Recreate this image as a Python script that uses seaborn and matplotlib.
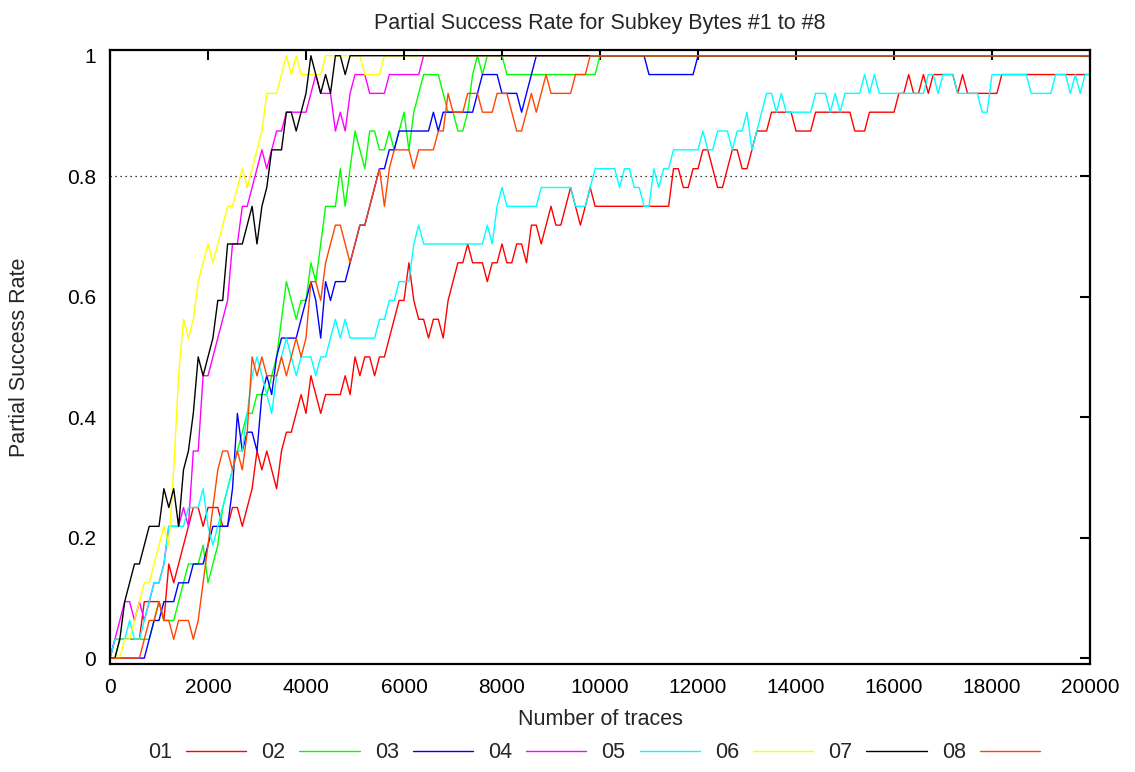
import numpy as np
import pandas as pd
import matplotlib
matplotlib.use("Agg")
import matplotlib.pyplot as plt
import seaborn as sns

# Number of traces at each evaluation step
traces = list(range(0, 20001, 100))

# Successful key recoveries out of 32 experiments, per subkey byte
byte01 = ([0, 1, 1, 1, 1, 1, 1, 3, 3, 3]
          + [3, 2, 5, 4, 5, 6, 7, 8, 8, 7]
          + [8, 8, 8, 7, 7, 8, 8, 7, 8, 9]
          + [11, 10, 11, 10, 9, 11, 12, 12, 13, 14]
          + [13, 15, 14, 13, 14, 14, 14, 14, 15, 14]
          + [16, 15, 16, 16, 15, 16, 16, 17, 18, 19]
          + [19, 21, 19, 18, 18, 17, 18, 18, 17, 19]
          + [20, 21, 21, 22, 21, 21, 21, 20, 21, 21]
          + [22, 21, 21, 22, 22, 21, 23, 23, 22, 23]
          + [24, 23, 23, 24, 25, 24, 23, 24, 25, 24]
          + [24] * 10
          + [24, 24, 24, 24, 24, 26, 26, 25, 25, 26]
          + [26, 27, 27, 26, 25, 25, 26, 27, 27, 26]
          + [26, 27, 28, 28, 28, 29, 29, 29, 29, 29]
          + [28, 28, 28, 28, 29, 29, 29, 29, 29, 29]
          + [29, 29, 28, 28, 28, 29, 29, 29, 29, 29]
          + [29, 30, 30, 31, 30, 30, 31, 30, 31, 31]
          + [31, 31, 31, 30, 31, 30, 30, 30, 30, 30]
          + [30, 30, 31, 31, 31, 31, 31, 31, 31, 31]
          + [31] * 11)

byte02 = ([0, 0, 1, 1, 1, 1, 1, 1, 1, 2]
          + [3, 2, 2, 2, 3, 4, 5, 5, 5, 6]
          + [4, 5, 6, 8, 9, 10, 11, 12, 13, 13]
          + [14, 14, 14, 15, 16, 18, 20, 19, 18, 19]
          + [19, 21, 20, 22, 24, 24, 24, 26, 24, 26]
          + [28, 27, 26, 28, 28, 27, 27, 28, 27, 28]
          + [29, 27, 29, 30, 31, 31, 31, 31, 30, 29]
          + [29, 28, 28, 29, 31, 32, 31, 32, 32, 32]
          + [32, 31, 31, 31, 31, 31, 31, 31, 31, 31]
          + [31] * 10
          + [32] * 101)

byte03 = ([0, 0, 0, 0, 0, 0, 0, 0, 1, 2]
          + [2, 3, 3, 3, 4, 4, 4, 5, 5, 5]
          + [6, 7, 7, 7, 7, 9, 13, 11, 12, 12]
          + [11, 14, 15, 14, 16, 17, 17, 17, 17, 18]
          + [19, 20, 19, 17, 20, 19, 20, 20, 20, 21]
          + [22, 23, 23, 24, 25, 26, 26, 27, 27, 28]
          + [28, 28, 28, 28, 28, 28, 29, 28, 29, 29]
          + [29, 29, 29, 29, 29, 30, 31, 31, 31, 31]
          + [30, 30, 30, 30, 29, 30, 31, 32, 32, 32]
          + [32] * 10
          + [32] * 10
          + [31] * 10
          + [32] * 81)

byte04 = ([0, 1, 2, 3, 3, 2, 3, 2, 3, 4]
          + [4, 5, 7, 7, 7, 8, 7, 11, 11, 15]
          + [15, 16, 17, 18, 19, 22, 22, 24, 24, 25]
          + [26, 27, 26, 27, 28, 28, 29, 29, 29, 29]
          + [29, 30, 31, 30, 30, 30, 28, 29, 28, 30]
          + [31, 31, 31, 30, 30, 30, 30, 31, 31, 31]
          + [31, 31, 31, 31, 32, 32, 32, 32, 32, 32]
          + [32] * 131)

byte05 = ([0, 1, 1, 1, 2, 1, 1, 2, 3, 4]
          + [4, 5, 7, 7, 7, 7, 8, 8, 8, 9]
          + [7, 6, 7, 8, 9, 10, 11, 11, 13, 15]
          + [16, 15, 14, 13, 15, 16, 17, 16, 15, 16]
          + [16, 16, 15, 16, 16, 17, 18, 17, 18, 17]
          + [17, 17, 17, 17, 17, 18, 18, 19, 19, 20]
          + [20, 20, 22, 23, 22, 22, 22, 22, 22, 22]
          + [22, 22, 22, 22, 22, 22, 22, 23, 22, 24]
          + [25, 24, 24, 24, 24, 24, 24, 24, 25, 25]
          + [25, 25, 25, 25, 25, 24, 24, 24, 25, 26]
          + [26, 26, 26, 26, 25, 26, 26, 25, 25, 24]
          + [24, 26, 25, 26, 26, 27, 27, 27, 27, 27]
          + [27, 28, 27, 27, 28, 28, 28, 27, 28, 28]
          + [29, 27, 28, 29, 30, 30, 29, 30, 29, 29]
          + [29, 29, 29, 29, 30, 30, 30, 29, 30, 29]
          + [30, 30, 30, 30, 31, 30, 31, 30, 30, 30]
          + [30, 30, 30, 30, 30, 30, 30, 31, 31, 30]
          + [31, 31, 31, 30, 30, 30, 30, 30, 29, 29]
          + [31, 31, 31, 31, 31, 31, 31, 31, 30, 30]
          + [30, 30, 30, 31, 31, 31, 30, 31, 30, 31]
          + [31])

byte06 = ([0, 0, 0, 1, 1, 2, 3, 4, 4, 5]
          + [6, 7, 6, 10, 15, 18, 17, 18, 20, 21]
          + [22, 21, 22, 23, 24, 24, 25, 26, 25, 26]
          + [27, 28, 30, 30, 30, 31, 32, 31, 32, 31]
          + [31, 31, 31, 31, 32, 32, 32, 32, 32, 32]
          + [32, 32, 31, 31, 31, 31, 32, 32, 32, 32]
          + [32] * 141)

byte07 = ([0, 0, 1, 3, 4, 5, 5, 6, 7, 7]
          + [7, 9, 8, 9, 7, 10, 11, 13, 16, 15]
          + [16, 17, 19, 19, 22, 22, 22, 22, 23, 24]
          + [22, 24, 25, 27, 27, 27, 29, 29, 28, 29]
          + [30, 32, 31, 30, 31, 30, 32, 32, 31, 32]
          + [32] * 151)

byte08 = ([0, 0, 0, 0, 0, 0, 0, 1, 2, 2]
          + [3, 2, 2, 1, 2, 2, 2, 1, 2, 4]
          + [6, 8, 10, 11, 11, 10, 11, 10, 12, 16]
          + [15, 16, 15, 15, 15, 16, 15, 16, 17, 16]
          + [17, 20, 20, 19, 21, 22, 23, 23, 22, 21]
          + [22, 23, 23, 24, 25, 26, 24, 26, 27, 27]
          + [27, 27, 26, 27, 27, 27, 27, 28, 28, 30]
          + [29, 29, 29, 30, 30, 30, 29, 29, 29, 30]
          + [30, 30, 29, 28, 28, 29, 30, 29, 30, 31]
          + [30, 30, 30, 30, 30, 31, 31, 31, 32, 32]
          + [32] * 101)

n_experiments = 32
byte_labels = ["01", "02", "03", "04", "05", "06", "07", "08"]
byte_counts = [byte01, byte02, byte03, byte04, byte05, byte06, byte07, byte08]
line_colors = ["#ff0000", "#00ff00", "#0000ff", "#ff00ff",
               "#00ffff", "#ffff00", "#000000", "#ff4500"]

for lbl, counts in zip(byte_labels, byte_counts):
    if len(counts) != len(traces):
        raise ValueError(f"byte {lbl}: {len(counts)} values")

frames = []
for lbl, counts in zip(byte_labels, byte_counts):
    frames.append(pd.DataFrame({
        "traces": traces,
        "rate": np.array(counts) / n_experiments,
        "byte": lbl,
    }))
df = pd.concat(frames, ignore_index=True)

sns.set_style("white")
plt.rcParams["font.family"] = ["Liberation Sans", "DejaVu Sans"]

fig = plt.figure(figsize=(11.35, 7.72), dpi=100)
ax = fig.add_axes([110 / 1135, 1 - 664 / 772, 980 / 1135, 614 / 772])

sns.lineplot(data=df, x="traces", y="rate", hue="byte",
             hue_order=byte_labels, palette=line_colors,
             estimator=None, errorbar=None, linewidth=1.0, ax=ax)

ax.axhline(0.8, color="black", linestyle=(0, (1, 3)), linewidth=0.9, zorder=0.5)

ax.set_xlim(0, 20000)
ax.set_ylim(-0.0098, 1.0095)
ax.set_xticks(range(0, 20001, 2000))
ax.set_yticks([0, 0.2, 0.4, 0.6, 0.8, 1.0])
ax.set_yticklabels(["0", "0.2", "0.4", "0.6", "0.8", "1"])

for side in ["left", "right", "top", "bottom"]:
    ax.spines[side].set_visible(True)
    ax.spines[side].set_linewidth(1.6)
    ax.spines[side].set_color("black")

ax.tick_params(axis="both", which="major", direction="in", length=7,
               width=1.5, top=True, right=True, labelsize=15,
               colors="black", pad=10)

ax.set_xlabel("Number of traces", fontsize=15.5)
ax.set_ylabel("Partial Success Rate", fontsize=15.5)
ax.xaxis.set_label_coords(0.5, -0.074)
ax.yaxis.set_label_coords(-0.082, 0.5)

fig.text(600 / 1135, 1 - 23 / 772, "Partial Success Rate for Subkey Bytes #1 to #8",
         ha="center", va="center", fontsize=15.5)

handles, labels = ax.get_legend_handles_labels()
ax.legend(handles, labels, loc="center", ncol=8, frameon=False,
          markerfirst=False, fontsize=15.5, handlelength=2.8,
          handletextpad=0.65, columnspacing=0.7, borderpad=0,
          bbox_to_anchor=(594 / 1135, 1 - 753 / 772),
          bbox_transform=fig.transFigure)

fig.savefig("out.png", dpi=100)
